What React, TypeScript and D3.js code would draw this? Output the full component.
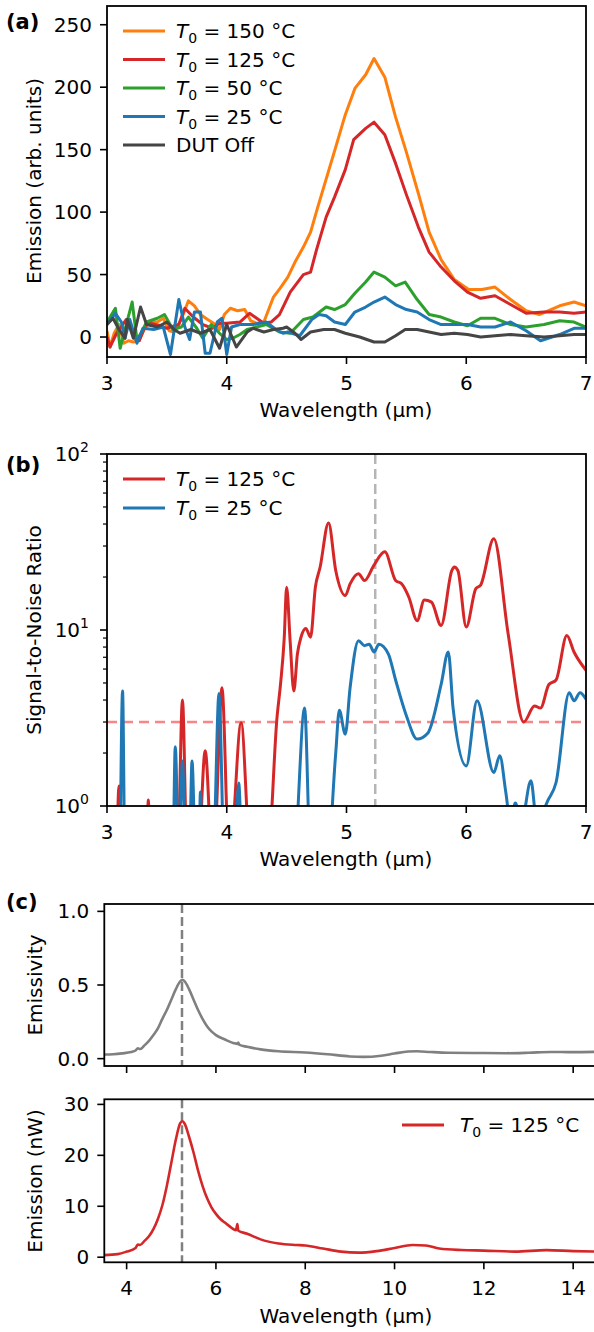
import React from 'react'
import * as d3 from 'd3'

// (a) emission spectra, [wavelength µm, arb. units]
const aT150: [number, number][] = [
	[3.0, 5], [3.025, -8], [3.06, 3], [3.1, 10], [3.14, -5], [3.18, -3], [3.22, -4], [3.27, -2], [3.32, 8], [3.36, 12],
	[3.42, 12], [3.47, 15], [3.52, 5], [3.56, 4], [3.62, 14], [3.68, 29], [3.73, 25], [3.78, 18], [3.84, 14], [3.89, 11],
	[3.94, 6], [3.98, 18], [4.03, 23], [4.09, 21], [4.15, 22], [4.2, 13], [4.25, 11], [4.31, 12], [4.39, 32], [4.445, 39],
	[4.51, 48], [4.57, 60], [4.64, 72], [4.7, 84], [4.76, 104], [4.81, 120], [4.91, 152], [4.99, 178], [5.07, 199], [5.16, 210],
	[5.23, 223], [5.32, 208], [5.41, 176], [5.5, 148], [5.6, 115], [5.69, 84], [5.79, 62], [5.9, 46], [6.02, 38], [6.13, 38],
	[6.24, 40], [6.37, 30], [6.5, 21], [6.61, 18], [6.78, 25], [6.9, 28], [7.0, 25],
]
const aT125: [number, number][] = [
	[3.0, 0], [3.025, -8], [3.08, 3], [3.16, 14], [3.22, 4], [3.27, -3], [3.32, 9], [3.36, 11], [3.45, 9], [3.5, 7],
	[3.6, 10], [3.65, 23], [3.72, 16], [3.8, 10], [3.88, 7], [3.94, 11], [4.0, 11], [4.11, 12], [4.19, 19], [4.25, 15],
	[4.31, 11], [4.37, 12], [4.44, 18], [4.53, 36], [4.64, 50], [4.7, 52], [4.75, 70], [4.83, 96], [4.9, 112], [4.99, 134],
	[5.06, 158], [5.16, 167], [5.23, 172], [5.32, 162], [5.41, 139], [5.5, 114], [5.6, 88], [5.69, 68], [5.79, 56], [5.9, 45],
	[6.01, 36], [6.12, 31], [6.24, 33], [6.37, 26], [6.5, 19], [6.65, 20], [6.78, 20], [6.9, 19], [7.0, 20],
]
const aT50: [number, number][] = [
	[3.0, 12], [3.07, 23], [3.11, -9], [3.15, 6], [3.21, 28], [3.25, -2], [3.29, 4], [3.33, 12], [3.42, 15], [3.48, 18],
	[3.55, 6], [3.62, 8], [3.68, 16], [3.75, 7], [3.8, -1], [3.87, 10], [3.94, 3], [4.0, -2], [4.05, -1], [4.11, 2],
	[4.17, 6], [4.25, 8], [4.33, 10], [4.44, 4], [4.53, 3], [4.64, 14], [4.72, 16], [4.83, 24], [4.9, 22], [4.99, 26],
	[5.07, 35], [5.16, 44], [5.23, 52], [5.32, 48], [5.41, 41], [5.49, 44], [5.59, 30], [5.69, 18], [5.79, 16], [5.9, 12],
	[6.01, 9], [6.12, 15], [6.24, 15], [6.37, 10], [6.5, 8], [6.65, 10], [6.78, 13], [6.9, 12], [7.0, 8],
]
const aT25: [number, number][] = [
	[3.0, 10], [3.07, 19], [3.12, 12], [3.15, -1], [3.19, 14], [3.25, -5], [3.3, 7], [3.39, 6], [3.47, 8], [3.53, -14],
	[3.6, 30], [3.65, 8], [3.69, -2], [3.73, 20], [3.78, 20], [3.82, -13], [3.86, -13], [3.92, 12], [3.96, 15], [4.0, -14],
	[4.04, 8], [4.11, 10], [4.22, 10], [4.33, 12], [4.41, 6], [4.47, 3], [4.51, 4], [4.61, 1], [4.71, 14], [4.77, 18],
	[4.83, 17], [4.9, 12], [4.99, 10], [5.07, 20], [5.16, 24], [5.23, 28], [5.32, 32], [5.41, 26], [5.5, 22], [5.59, 20],
	[5.69, 14], [5.79, 10], [5.9, 10], [6.01, 10], [6.12, 8], [6.24, 8], [6.37, 12], [6.5, 5], [6.62, -3], [6.78, 2],
	[6.9, 7], [7.0, 7],
]
const aOff: [number, number][] = [
	[3.0, 10], [3.05, 15], [3.1, 6], [3.15, -1], [3.17, 14], [3.22, -1], [3.28, 24], [3.33, 10], [3.42, 8], [3.5, 12],
	[3.56, 6], [3.61, 3], [3.7, 6], [3.78, 3], [3.86, 6], [3.94, -9], [4.0, 10], [4.08, -8], [4.17, 4], [4.22, 7],
	[4.31, 4], [4.39, 6], [4.47, 7], [4.5, 8], [4.57, 3], [4.62, -2], [4.7, 4], [4.81, 6], [4.9, 6], [4.99, 3],
	[5.11, 0], [5.23, -4], [5.32, -4], [5.41, 1], [5.49, 6], [5.59, 6], [5.69, 4], [5.79, 2], [5.9, 3], [6.01, 2],
	[6.12, 0], [6.24, 1], [6.37, 2], [6.5, 1], [6.65, 0], [6.78, 1], [6.9, 2], [7.0, 2],
]

// (b) signal-to-noise ratio (values under 1 fall below the axis)
const snrT125: [number, number][] = [
	[3.08, 0.4], [3.1, 1.3], [3.12, 0.4], [3.33, 0.5], [3.345, 1.08], [3.36, 0.5], [3.59, 0.5], [3.63, 4.0], [3.67, 0.5],
	[3.76, 0.5], [3.82, 2.06], [3.88, 0.5], [3.9, 0.6], [3.96, 4.7], [4.02, 0.5], [4.04, 0.6], [4.12, 2.97], [4.2, 0.5],
	[4.34, 0.5], [4.42, 3.2], [4.45, 5], [4.48, 9], [4.5, 17.5], [4.53, 8.5], [4.56, 4.5], [4.59, 7.3], [4.62, 9.1],
	[4.66, 10.2], [4.7, 9.1], [4.74, 17.5], [4.78, 22.8], [4.85, 40.6], [4.91, 21.8], [4.99, 15.7], [5.03, 18.3],
	[5.1, 20.9], [5.15, 19.1], [5.23, 23.4], [5.32, 27.8], [5.41, 19.1], [5.46, 18.3], [5.52, 15.4], [5.59, 11.3],
	[5.65, 14.8], [5.71, 14.4], [5.79, 10.6], [5.88, 21.8], [5.9, 22.8], [5.93, 21.8], [6.0, 10.4], [6.08, 17.2],
	[6.12, 18], [6.23, 33], [6.35, 9.5], [6.48, 3.0], [6.57, 3.7], [6.62, 3.6], [6.69, 4.9], [6.75, 5.2], [6.84, 9.3],
	[6.9, 7.5], [7.0, 5.9],
]
const snrT25: [number, number][] = [
	[3.11, 0.5], [3.13, 4.5], [3.15, 0.5], [3.55, 0.5], [3.57, 2.17], [3.6, 0.5], [3.63, 1.8], [3.66, 0.5], [3.69, 0.6],
	[3.71, 1.8], [3.74, 0.5], [3.77, 0.6], [3.78, 1.2], [3.8, 0.5], [3.89, 0.6], [3.935, 4.36], [3.98, 0.5], [4.07, 0.6],
	[4.1, 1.35], [4.13, 0.5], [4.56, 0.5], [4.65, 3.6], [4.7, 0.5], [4.84, 0.5], [4.91, 2.0], [4.94, 3.5], [4.99, 2.56],
	[5.03, 4.7], [5.1, 8.7], [5.15, 8.15], [5.19, 8.3], [5.23, 7.5], [5.27, 8.3], [5.35, 7.3], [5.41, 5.2], [5.5, 3.26],
	[5.59, 2.4], [5.68, 2.6], [5.79, 4.9], [5.85, 7.5], [5.89, 3.6], [6.0, 1.69], [6.09, 3.96], [6.23, 1.55], [6.28, 1.93],
	[6.33, 1.2], [6.37, 0.8], [6.41, 1.04], [6.46, 0.8], [6.54, 1.39], [6.59, 0.8], [6.68, 1.07], [6.75, 1.36],
	[6.86, 4.4], [6.9, 3.96], [6.95, 4.4], [7.0, 4.05],
]
const snrThreshold = 3
const peakWavelength = 5.24

// (c) emissivity and emitted power
const emissivity: [number, number][] = [
	[3.5, 0.028], [3.7, 0.03], [3.9, 0.036], [4.1, 0.045], [4.2, 0.055], [4.25, 0.07], [4.3, 0.065], [4.4, 0.09],
	[4.5, 0.12], [4.6, 0.16], [4.7, 0.205], [4.8, 0.27], [4.9, 0.33], [5.0, 0.4], [5.1, 0.47], [5.2, 0.525],
	[5.25, 0.535], [5.3, 0.525], [5.4, 0.47], [5.5, 0.4], [5.6, 0.33], [5.7, 0.27], [5.8, 0.22], [5.9, 0.185],
	[6.0, 0.16], [6.2, 0.13], [6.4, 0.105], [6.48, 0.1], [6.5, 0.11], [6.52, 0.095], [6.7, 0.08], [7.0, 0.063],
	[7.4, 0.05], [8.0, 0.042], [8.5, 0.03], [9.0, 0.015], [9.3, 0.012], [9.7, 0.02], [10.0, 0.035], [10.3, 0.048],
	[10.5, 0.05], [10.8, 0.045], [11.2, 0.04], [12.0, 0.038], [12.5, 0.037], [13.0, 0.04], [13.5, 0.045],
	[14.0, 0.044], [14.5, 0.046],
]
const emissionNW: [number, number][] = [
	[3.5, 0.4], [3.8, 0.6], [4.0, 1.1], [4.2, 1.8], [4.25, 2.5], [4.3, 2.4], [4.4, 3.2], [4.5, 4.1], [4.6, 5.5],
	[4.7, 7.5], [4.8, 10.2], [4.9, 14], [5.0, 18.5], [5.1, 23], [5.2, 26.3], [5.25, 26.7], [5.3, 26.2], [5.4, 23.6],
	[5.5, 20.5], [5.6, 17], [5.7, 14], [5.8, 11.6], [5.9, 9.8], [6.0, 8.5], [6.1, 7.5], [6.2, 6.8], [6.3, 6.1],
	[6.45, 5.3], [6.48, 6.5], [6.5, 5.2], [6.7, 4.6], [7.0, 3.5], [7.4, 2.7], [7.8, 2.4], [8.0, 2.3], [8.4, 1.7],
	[8.8, 1.1], [9.2, 0.9], [9.6, 1.2], [10.0, 1.8], [10.4, 2.4], [10.7, 2.3], [11.0, 1.7], [11.5, 1.4], [12.0, 1.3],
	[12.7, 1.1], [13.4, 1.4], [14.0, 1.2], [14.5, 1.1],
]

const ticksA = [3, 4, 5, 6, 7]
const yTicksA = [0, 50, 100, 150, 200, 250]
const yTicksB = [1, 10, 100]
const yTicksBLabels = ['0', '1', '2']
const ticksC = [4, 6, 8, 10, 12, 14]
const yTicksC1 = [0, 0.5, 1.0]
const yTicksC2 = [0, 10, 20, 30]

const legendA = [
	{ t: '150', color: '#ff7f0e', data: aT150 },
	{ t: '125', color: '#d62728', data: aT125 },
	{ t: '50', color: '#2ca02c', data: aT50 },
	{ t: '25', color: '#1f77b4', data: aT25 },
	{ t: null, color: '#454545', data: aOff },
]
const legendB = [
	{ t: '125', color: '#d62728', data: snrT125 },
	{ t: '25', color: '#1f77b4', data: snrT25 },
]

const FONT = "'DejaVu Sans', 'Liberation Sans', sans-serif"
const FS = 20

const xA = d3.scaleLinear().domain([3, 7]).range([107, 586])
const yA = d3.scaleLinear().domain([-16, 265]).range([357, 6])
const yB = d3.scaleLog().domain([1, 100]).range([806, 454])
const xC = d3.scaleLinear().domain([3.5, 14.5]).range([104.3, 595.5])
const yC1 = d3.scaleLinear().domain([-0.05, 1.05]).range([1066, 904])
const yC2 = d3.scaleLinear().domain([-1, 31]).range([1262.3, 1099.3])

const T0 = ({ x, y, t }: { x: number, y: number, t: string }) => (
	<text x={x} y={y} fontSize={FS}>
		<tspan fontStyle="italic">T</tspan>
		<tspan fontSize={14} dy={5}>0</tspan>
		<tspan dy={-5}>{'\u00a0= ' + t + ' °C'}</tspan>
	</text>
)

const Frame = ({ x0, x1, y0, y1 }: any) => (
	<rect x={x0} y={y0} width={x1 - x0} height={y1 - y0} fill="none" stroke="#000" strokeWidth={1.8} />
)

const XTicks = ({ scale, ticks, y, labels }: any) => (
	<g>
		{ticks.map((t: number) => (
			<g key={t}>
				<line x1={scale(t)} x2={scale(t)} y1={y} y2={y + 7} stroke="#000" strokeWidth={1.6} />
				{labels && <text x={scale(t)} y={y + 32.5} textAnchor="middle" fontSize={FS}>{t}</text>}
			</g>
		))}
	</g>
)

const YTicks = ({ scale, ticks, x, fmt }: any) => (
	<g>
		{ticks.map((t: number) => (
			<g key={t}>
				<line x1={x - 7} x2={x} y1={scale(t)} y2={scale(t)} stroke="#000" strokeWidth={1.6} />
				<text x={x - 15} y={scale(t) + 7} textAnchor="end" fontSize={FS}>{fmt ? fmt(t) : t}</text>
			</g>
		))}
	</g>
)

const App = () => {
	const lineA = d3.line<[number, number]>().x(d => xA(d[0])).y(d => yA(d[1]))
	const lineB = d3.line<[number, number]>().curve(d3.curveMonotoneX).x(d => xA(d[0])).y(d => yB(d[1]))
	const lineC1 = d3.line<[number, number]>().curve(d3.curveMonotoneX).x(d => xC(d[0])).y(d => yC1(d[1]))
	const lineC2 = d3.line<[number, number]>().curve(d3.curveMonotoneX).x(d => xC(d[0])).y(d => yC2(d[1]))

	const minorB: number[] = []
	for (const dec of [1, 10]) for (let k = 2; k <= 9; k++) minorB.push(dec * k)

	return (
		<div style={{ position: 'absolute', left: 0, top: 0 }}>
			<svg width={594} height={1332} fontFamily={FONT} style={{ display: 'block', background: '#fff' }}>
				<defs>
					<clipPath id="clipA"><rect x={107} y={6} width={479} height={351} /></clipPath>
					<clipPath id="clipB"><rect x={107} y={454} width={479} height={352} /></clipPath>
					<clipPath id="clipC1"><rect x={104.3} y={904} width={491} height={162} /></clipPath>
					<clipPath id="clipC2"><rect x={104.3} y={1099.3} width={491} height={163} /></clipPath>
				</defs>

				{/* (a) */}
				<text x={6} y={29} fontSize={21} fontWeight="bold">(a)</text>
				<g clipPath="url(#clipA)">
					{legendA.map(s => (
						<path key={s.color} d={lineA(s.data) as string} fill="none" stroke={s.color} strokeWidth={3} strokeLinejoin="round" />
					))}
				</g>
				<Frame x0={107} x1={586} y0={6} y1={357} />
				<XTicks scale={xA} ticks={ticksA} y={357} labels />
				<YTicks scale={yA} ticks={yTicksA} x={107} />
				<text x={346} y={417} textAnchor="middle" fontSize={FS}>Wavelength (µm)</text>
				<text transform="translate(41,181) rotate(-90)" textAnchor="middle" fontSize={FS}>Emission (arb. units)</text>
				{legendA.map((s, i) => (
					<g key={'la' + i}>
						<line x1={123} x2={165} y1={31 + i * 28.5} y2={31 + i * 28.5} stroke={s.color} strokeWidth={3} />
						{s.t ? <T0 x={176} y={38 + i * 28.5} t={s.t} /> : <text x={176} y={38 + i * 28.5} fontSize={FS}>DUT Off</text>}
					</g>
				))}

				{/* (b) */}
				<text x={6} y={472} fontSize={21} fontWeight="bold">(b)</text>
				<g clipPath="url(#clipB)">
					<line x1={xA(3)} x2={xA(7)} y1={yB(snrThreshold)} y2={yB(snrThreshold)} stroke="#f88686" strokeWidth={2.5} strokeDasharray="10,6" />
					<line x1={xA(peakWavelength)} x2={xA(peakWavelength)} y1={454} y2={806} stroke="#b5b5b5" strokeWidth={2.5} strokeDasharray="10,5" />
					{legendB.map(s => (
						<path key={s.color} d={lineB(s.data) as string} fill="none" stroke={s.color} strokeWidth={3} strokeLinejoin="round" />
					))}
				</g>
				<Frame x0={107} x1={586} y0={454} y1={806} />
				<XTicks scale={xA} ticks={ticksA} y={806} labels />
				{minorB.map(t => (
					<line key={'m' + t} x1={103} x2={107} y1={yB(t)} y2={yB(t)} stroke="#000" strokeWidth={1.2} />
				))}
				{yTicksB.map((t, i) => (
					<g key={'yb' + t}>
						<line x1={100} x2={107} y1={yB(t)} y2={yB(t)} stroke="#000" strokeWidth={1.6} />
						<text x={89} y={yB(t) + 7} textAnchor="end" fontSize={FS}>
							10<tspan fontSize={14} dy={-9}>{yTicksBLabels[i]}</tspan>
						</text>
					</g>
				))}
				<text x={346} y={866} textAnchor="middle" fontSize={FS}>Wavelength (µm)</text>
				<text transform="translate(41,630) rotate(-90)" textAnchor="middle" fontSize={FS}>Signal-to-Noise Ratio</text>
				{legendB.map((s, i) => (
					<g key={'lb' + i}>
						<line x1={123} x2={165} y1={479 + i * 29} y2={479 + i * 29} stroke={s.color} strokeWidth={3} />
						<T0 x={176} y={486 + i * 29} t={s.t} />
					</g>
				))}

				{/* (c) top */}
				<text x={6} y={909} fontSize={21} fontWeight="bold">(c)</text>
				<g clipPath="url(#clipC1)">
					<line x1={xC(peakWavelength)} x2={xC(peakWavelength)} y1={904} y2={1066} stroke="#808080" strokeWidth={2.5} strokeDasharray="9,4" />
					<path d={lineC1(emissivity) as string} fill="none" stroke="#808080" strokeWidth={2.6} />
				</g>
				<Frame x0={104.3} x1={595.5} y0={904} y1={1066} />
				<XTicks scale={xC} ticks={ticksC} y={1066} />
				<YTicks scale={yC1} ticks={yTicksC1} x={104.3} fmt={(t: number) => t.toFixed(1)} />
				<text transform="translate(42,985) rotate(-90)" textAnchor="middle" fontSize={FS}>Emissivity</text>

				{/* (c) bottom */}
				<g clipPath="url(#clipC2)">
					<line x1={xC(peakWavelength)} x2={xC(peakWavelength)} y1={1099.3} y2={1262.3} stroke="#808080" strokeWidth={2.5} strokeDasharray="9,4" />
					<path d={lineC2(emissionNW) as string} fill="none" stroke="#d62728" strokeWidth={2.6} />
				</g>
				<Frame x0={104.3} x1={595.5} y0={1099.3} y1={1262.3} />
				<XTicks scale={xC} ticks={ticksC} y={1262.3} labels />
				<YTicks scale={yC2} ticks={yTicksC2} x={104.3} />
				<text x={346} y={1323} textAnchor="middle" fontSize={FS}>Wavelength (µm)</text>
				<text transform="translate(42,1181) rotate(-90)" textAnchor="middle" fontSize={FS}>Emission (nW)</text>
				<line x1={402} x2={444} y1={1125} y2={1125} stroke="#d62728" strokeWidth={3} />
				<T0 x={460} y={1132} t="125" />
			</svg>
		</div>
	)
}

export default App
